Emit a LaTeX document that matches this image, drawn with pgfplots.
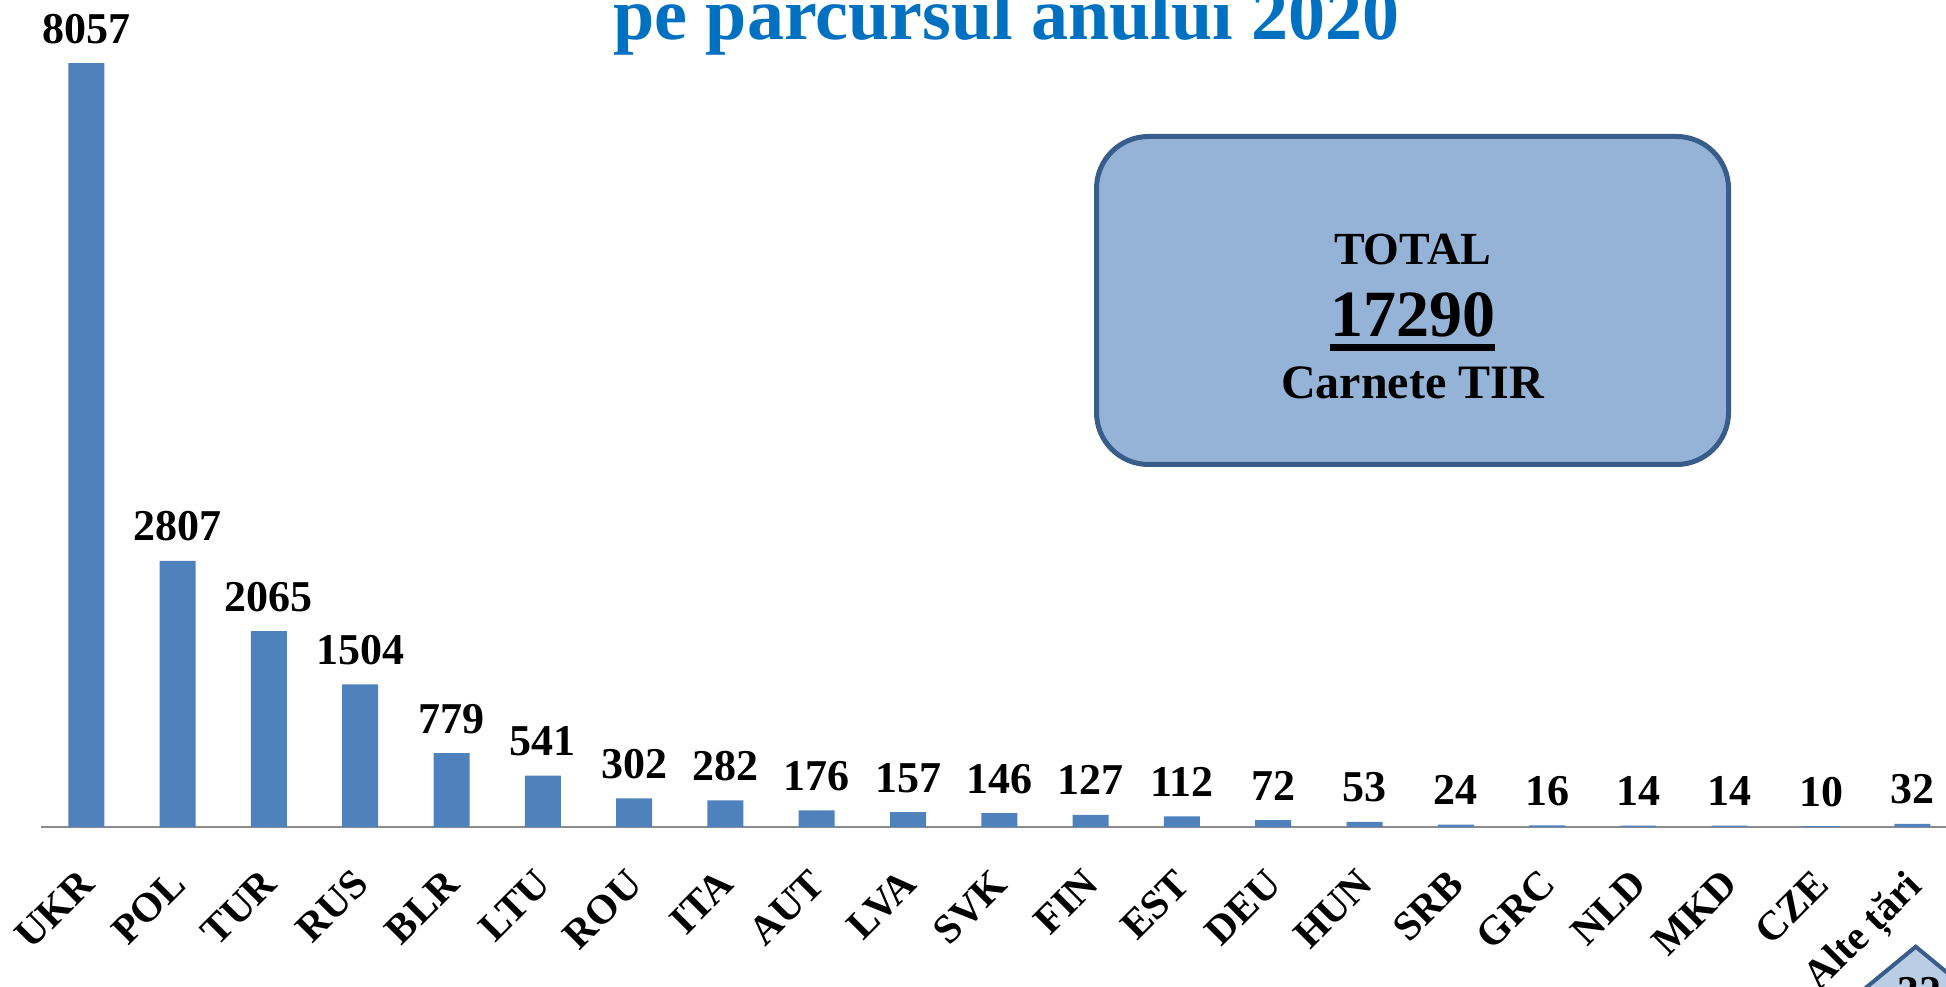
\documentclass[border=0pt]{standalone}
\usepackage{pgfplots}
\pgfplotsset{compat=1.18}
\usepackage{fontspec}
\setmainfont{Liberation Serif}
\definecolor{barblue}{HTML}{4F81BD}
\definecolor{boxfill}{HTML}{95B3D7}
\definecolor{boxline}{HTML}{385D8A}
\definecolor{titleblue}{HTML}{0070C0}
\definecolor{diafill}{HTML}{B9CDE5}
\definecolor{axisgray}{HTML}{8C8C8C}
\begin{document}
\begin{tikzpicture}[x=1pt,y=1pt]
\path[use as bounding box, clip] (0,0) rectangle (973,493);
\begin{axis}[
  at={(20.325pt,79.5pt)}, anchor=south west,
  x=45.65pt, y=0.047393pt,
  xmin=-0.5, xmax=20.62, ymin=0, ymax=8500,
  enlargelimits=false,
  axis x line*=bottom, axis y line=none,
  x axis line style={draw=axisgray, line width=1pt},
  ybar, bar width=18pt,
  xtick=data, major tick length=0pt,
  xticklabels={UKR,POL,TUR,RUS,BLR,LTU,ROU,ITA,AUT,LVA,SVK,FIN,EST,DEU,HUN,SRB,GRC,NLD,MKD,CZE,Alte țări},
  xticklabel style={xshift=-4.5pt, yshift=-20pt, rotate=45, anchor=north east, inner sep=0pt, font=\fontsize{20.5}{20.5}\selectfont\bfseries},
  nodes near coords,
  every node near coord/.append style={anchor=base, inner sep=0pt, yshift=10pt, font=\fontsize{22}{22}\selectfont\bfseries, text=black},
  /pgf/number format/1000 sep={},
  /pgf/number format/assume math mode=true,
  clip=false,
]
\addplot[fill=barblue, draw=none] coordinates {
(0,8057) (1,2807) (2,2065) (3,1504) (4,779) (5,541) (6,302) (7,282) (8,176) (9,157)
(10,146) (11,127) (12,112) (13,72) (14,53) (15,24) (16,16) (17,14) (18,14) (19,10) (20,32)};
\end{axis}
\node[anchor=base, inner sep=0pt, text=titleblue, font=\fontsize{37}{37}\selectfont\bfseries] at (503.25,473) {pe parcursul anului 2020};
\draw[boxline, line width=2.5pt, fill=boxfill, rounded corners=26pt] (548.25,260.75) rectangle (864.25,424.75);
\node[anchor=base, inner sep=0pt, font=\fontsize{23}{23}\selectfont\bfseries] at (706.25,360.5) {TOTAL};
\node[anchor=base, inner sep=0pt, font=\fontsize{33}{33}\selectfont\bfseries] (tot) at (706.25,324.5) {17290};
\draw[line width=3.5pt] ([yshift=-5.25pt]tot.base west) -- ([yshift=-5.25pt]tot.base east);
\node[anchor=base, inner sep=0pt, font=\fontsize{24}{24}\selectfont\bfseries] at (706.25,293.5) {Carnete TIR};
\draw[boxline, line width=2pt, fill=diafill] (957.85,19.65) -- (1006,-20) -- (957.85,-60) -- (909.7,-20) -- cycle;
\node[anchor=base, inner sep=0pt, font=\fontsize{22}{22}\selectfont\bfseries] at (959.5,-10) {32};
\end{tikzpicture}
\end{document}
